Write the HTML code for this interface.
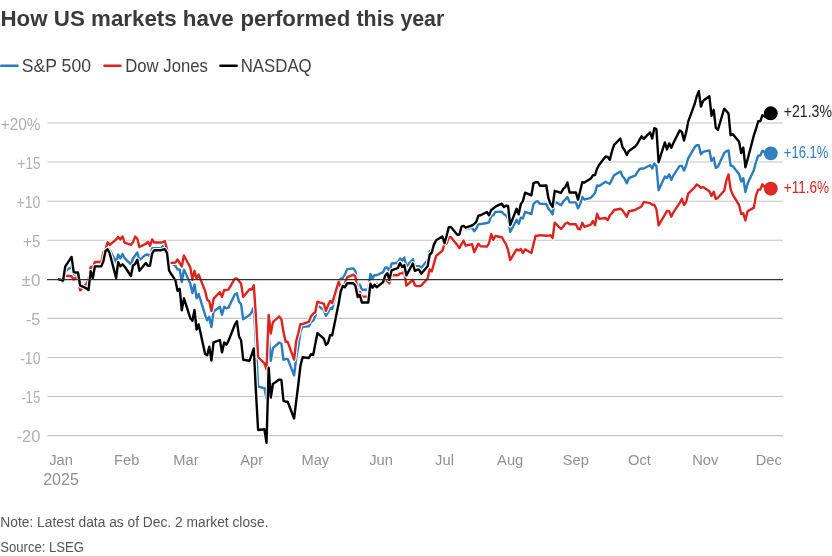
<!DOCTYPE html>
<html lang="en"><head><meta charset="utf-8"><title>How US markets have performed this year</title>
<style>
html,body{margin:0;padding:0;background:#fff;}
body{width:832px;height:556px;overflow:hidden;font-family:"Liberation Sans",sans-serif;}
svg{display:block;}
text{font-family:"Liberation Sans",sans-serif;}
.title{font-size:22px;font-weight:700;fill:#3a3a3a;}
.lg{font-size:17.3px;fill:#404040;}
.yl{font-size:14.5px;fill:#b0b0b0;}
.xl{font-size:14.7px;fill:#909090;}
.el{font-size:15.8px;}
.note{font-size:14px;fill:#555;}
</style></head><body>
<svg width="832" height="556" viewBox="0 0 832 556">
<rect width="832" height="556" fill="#fff"/>
<g class="title"><text x="0.5" y="25.7" textLength="176.2" lengthAdjust="spacingAndGlyphs">How US markets</text><text x="182.8" y="25.7" textLength="51.0" lengthAdjust="spacingAndGlyphs">have</text><text x="240.4" y="25.7" textLength="109.9" lengthAdjust="spacingAndGlyphs">performed</text><text x="356.5" y="25.7" textLength="87.8" lengthAdjust="spacingAndGlyphs">this year</text></g>
<line x1="1.2" x2="17.5" y1="65.7" y2="65.7" stroke="#2a7bbf" stroke-width="2.5" stroke-linecap="round"/>
<text transform="translate(21.8,71.9) scale(1,1.08)" class="lg" textLength="69.2" lengthAdjust="spacingAndGlyphs">S&amp;P 500</text>
<line x1="104.5" x2="120.5" y1="65.7" y2="65.7" stroke="#dc231e" stroke-width="2.5" stroke-linecap="round"/>
<text transform="translate(125.3,71.9) scale(1,1.08)" class="lg" textLength="82.5" lengthAdjust="spacingAndGlyphs">Dow Jones</text>
<line x1="220.4" x2="236.6" y1="65.7" y2="65.7" stroke="#000" stroke-width="2.5" stroke-linecap="round"/>
<text transform="translate(240.7,71.9) scale(1,1.08)" class="lg" textLength="71" lengthAdjust="spacingAndGlyphs">NASDAQ</text>
<line x1="47.5" x2="783" y1="123.00" y2="123.00" stroke="#c3c3c3" stroke-width="1.05"/>
<line x1="47.5" x2="783" y1="162.07" y2="162.07" stroke="#c3c3c3" stroke-width="1.05"/>
<line x1="47.5" x2="783" y1="201.15" y2="201.15" stroke="#c3c3c3" stroke-width="1.05"/>
<line x1="47.5" x2="783" y1="240.23" y2="240.23" stroke="#c3c3c3" stroke-width="1.05"/>
<line x1="47.5" x2="783" y1="318.38" y2="318.38" stroke="#c3c3c3" stroke-width="1.05"/>
<line x1="47.5" x2="783" y1="357.45" y2="357.45" stroke="#c3c3c3" stroke-width="1.05"/>
<line x1="47.5" x2="783" y1="396.53" y2="396.53" stroke="#c3c3c3" stroke-width="1.05"/>
<line x1="47.5" x2="783" y1="435.60" y2="435.60" stroke="#c3c3c3" stroke-width="1.05"/>

<text transform="translate(0.7,129.6) scale(1,1.15)" class="yl" textLength="39.7" lengthAdjust="spacingAndGlyphs">+20%</text>
<text transform="translate(17.6,168.7) scale(1,1.15)" class="yl" textLength="22.8" lengthAdjust="spacingAndGlyphs">+15</text>
<text transform="translate(16.6,207.8) scale(1,1.15)" class="yl" textLength="23.8" lengthAdjust="spacingAndGlyphs">+10</text>
<text transform="translate(23.0,246.8) scale(1,1.15)" class="yl" textLength="17.4" lengthAdjust="spacingAndGlyphs">+5</text>
<text transform="translate(21.5,285.9) scale(1,1.15)" class="yl" textLength="18.9" lengthAdjust="spacingAndGlyphs">±0</text>
<text transform="translate(25.9,325.0) scale(1,1.15)" class="yl" textLength="14.5" lengthAdjust="spacingAndGlyphs">-5</text>
<text transform="translate(20.2,364.1) scale(1,1.15)" class="yl" textLength="20.2" lengthAdjust="spacingAndGlyphs">-10</text>
<text transform="translate(21.2,403.1) scale(1,1.15)" class="yl" textLength="19.2" lengthAdjust="spacingAndGlyphs">-15</text>
<text transform="translate(16.6,442.2) scale(1,1.15)" class="yl" textLength="23.8" lengthAdjust="spacingAndGlyphs">-20</text>

<text transform="translate(61.0,465.1) scale(1,1.05)" text-anchor="middle" class="xl">Jan</text>
<text transform="translate(126.7,465.1) scale(1,1.05)" text-anchor="middle" class="xl">Feb</text>
<text transform="translate(186.0,465.1) scale(1,1.05)" text-anchor="middle" class="xl">Mar</text>
<text transform="translate(251.7,465.1) scale(1,1.05)" text-anchor="middle" class="xl">Apr</text>
<text transform="translate(315.3,465.1) scale(1,1.05)" text-anchor="middle" class="xl">May</text>
<text transform="translate(381.0,465.1) scale(1,1.05)" text-anchor="middle" class="xl">Jun</text>
<text transform="translate(444.5,465.1) scale(1,1.05)" text-anchor="middle" class="xl">Jul</text>
<text transform="translate(510.2,465.1) scale(1,1.05)" text-anchor="middle" class="xl">Aug</text>
<text transform="translate(575.9,465.1) scale(1,1.05)" text-anchor="middle" class="xl">Sep</text>
<text transform="translate(639.5,465.1) scale(1,1.05)" text-anchor="middle" class="xl">Oct</text>
<text transform="translate(705.2,465.1) scale(1,1.05)" text-anchor="middle" class="xl">Nov</text>
<text transform="translate(768.7,465.1) scale(1,1.05)" text-anchor="middle" class="xl">Dec</text>
<text transform="translate(61.0,485.3) scale(1,1.15)" text-anchor="middle" class="xl" textLength="35.6" lengthAdjust="spacingAndGlyphs">2025</text>

<path d="M58.9,279.3 L63.1,281.0 L65.2,271.2 L71.6,266.8 L73.7,275.7 L75.8,274.4 L78.0,274.4 L80.1,286.6 L86.4,285.3 L88.5,284.4 L90.7,270.2 L92.8,271.9 L94.9,264.0 L101.3,264.0 L103.4,257.0 L105.5,252.1 L107.6,247.8 L109.7,250.1 L116.1,261.9 L118.2,254.6 L120.3,258.3 L122.5,254.1 L124.6,258.2 L130.9,264.3 L133.0,258.5 L135.2,255.4 L137.3,252.5 L139.4,260.1 L145.8,254.7 L147.9,254.5 L150.0,256.7 L152.1,248.3 L154.2,248.3 L160.6,248.3 L162.7,246.4 L164.8,244.4 L167.0,248.0 L169.1,261.8 L175.4,265.8 L177.5,269.5 L179.7,269.4 L181.8,282.0 L183.9,269.6 L190.3,283.5 L192.4,293.0 L194.5,284.5 L196.6,298.3 L198.7,294.1 L205.1,314.8 L207.2,320.4 L209.3,316.8 L211.4,327.1 L213.6,311.5 L219.9,306.7 L222.0,314.8 L224.2,306.7 L226.3,308.4 L228.4,307.7 L234.8,294.5 L236.9,293.2 L239.0,301.8 L241.1,304.3 L243.2,319.3 L249.6,315.1 L251.7,312.3 L253.8,307.3 L255.9,343.8 L258.1,386.6 L264.4,388.2 L266.5,398.7 L268.7,335.7 L270.8,360.8 L272.9,348.2 L279.3,342.5 L281.4,343.7 L283.5,359.8 L285.6,358.9 L287.7,358.9 L294.1,375.4 L296.2,358.2 L298.3,346.5 L300.4,332.0 L302.6,326.7 L308.9,326.2 L311.0,321.9 L313.2,320.8 L315.3,316.2 L317.4,305.2 L323.8,310.0 L325.9,315.8 L328.0,312.6 L330.1,308.2 L332.2,308.8 L338.6,284.3 L340.7,278.6 L342.8,277.8 L344.9,274.6 L347.1,269.1 L353.4,268.4 L355.5,271.5 L357.7,284.2 L359.8,284.6 L361.9,289.8 L368.3,289.8 L370.4,274.0 L372.5,278.4 L374.6,275.2 L376.7,275.3 L383.1,272.1 L385.2,267.5 L387.3,267.5 L389.4,271.6 L391.6,263.5 L397.9,262.8 L400.0,258.4 L402.2,260.6 L404.3,257.6 L406.4,266.6 L412.8,259.2 L414.9,265.9 L417.0,266.1 L419.1,266.1 L421.2,267.8 L427.6,260.2 L429.7,251.3 L431.8,251.3 L433.9,244.8 L436.1,240.6 L442.4,236.3 L444.5,237.3 L446.7,233.4 L448.8,226.5 L450.9,226.5 L457.3,233.0 L459.4,233.6 L461.5,228.6 L463.6,226.3 L465.7,229.1 L472.1,227.9 L474.2,231.2 L476.3,228.5 L478.4,224.1 L480.6,224.1 L486.9,223.0 L489.0,222.4 L491.2,215.9 L493.3,215.3 L495.4,211.9 L501.8,211.8 L503.9,214.3 L506.0,215.4 L508.1,218.5 L510.2,231.9 L516.6,219.7 L518.7,223.8 L520.8,217.7 L522.9,218.4 L525.1,211.8 L531.4,214.0 L533.5,204.3 L535.7,201.6 L537.8,201.3 L539.9,203.8 L546.3,203.9 L548.4,208.9 L550.5,211.0 L552.6,214.4 L554.7,201.5 L561.1,205.2 L563.2,201.7 L565.3,199.6 L567.4,196.9 L569.6,202.4 L575.9,202.4 L578.0,208.4 L580.2,204.0 L582.3,196.9 L584.4,199.6 L590.8,197.8 L592.9,195.5 L595.0,192.9 L597.1,185.5 L599.2,185.9 L605.6,181.8 L607.7,183.0 L609.8,183.8 L611.9,179.6 L614.1,175.3 L620.4,171.4 L622.5,176.3 L624.7,178.8 L626.8,183.2 L628.9,178.0 L635.2,175.7 L637.4,172.1 L639.5,169.1 L641.6,168.5 L643.7,168.5 L650.1,165.2 L652.2,168.6 L654.3,163.4 L656.4,165.9 L658.6,190.2 L664.9,176.6 L667.0,178.0 L669.2,174.4 L671.3,180.0 L673.4,175.3 L679.7,165.9 L681.9,165.9 L684.0,170.6 L686.1,165.5 L688.2,158.4 L694.6,147.3 L696.7,145.2 L698.8,145.2 L700.9,154.3 L703.1,151.9 L709.4,150.4 L711.5,161.1 L713.7,157.8 L715.8,167.9 L717.9,166.7 L724.2,153.0 L726.4,151.1 L728.5,150.5 L730.6,165.6 L732.7,166.0 L739.1,174.2 L741.2,181.5 L743.3,178.2 L745.4,192.0 L747.6,183.5 L753.9,169.9 L756.0,161.8 L758.2,155.6 L760.3,155.6 L762.4,150.8 L768.7,155.6 L770.9,153.4" fill="none" stroke="#fff" stroke-width="4.6" stroke-linejoin="round" stroke-linecap="round"/>
<path d="M58.9,279.3 L63.1,281.0 L65.2,271.2 L71.6,266.8 L73.7,275.7 L75.8,274.4 L78.0,274.4 L80.1,286.6 L86.4,285.3 L88.5,284.4 L90.7,270.2 L92.8,271.9 L94.9,264.0 L101.3,264.0 L103.4,257.0 L105.5,252.1 L107.6,247.8 L109.7,250.1 L116.1,261.9 L118.2,254.6 L120.3,258.3 L122.5,254.1 L124.6,258.2 L130.9,264.3 L133.0,258.5 L135.2,255.4 L137.3,252.5 L139.4,260.1 L145.8,254.7 L147.9,254.5 L150.0,256.7 L152.1,248.3 L154.2,248.3 L160.6,248.3 L162.7,246.4 L164.8,244.4 L167.0,248.0 L169.1,261.8 L175.4,265.8 L177.5,269.5 L179.7,269.4 L181.8,282.0 L183.9,269.6 L190.3,283.5 L192.4,293.0 L194.5,284.5 L196.6,298.3 L198.7,294.1 L205.1,314.8 L207.2,320.4 L209.3,316.8 L211.4,327.1 L213.6,311.5 L219.9,306.7 L222.0,314.8 L224.2,306.7 L226.3,308.4 L228.4,307.7 L234.8,294.5 L236.9,293.2 L239.0,301.8 L241.1,304.3 L243.2,319.3 L249.6,315.1 L251.7,312.3 L253.8,307.3 L255.9,343.8 L258.1,386.6 L264.4,388.2 L266.5,398.7 L268.7,335.7 L270.8,360.8 L272.9,348.2 L279.3,342.5 L281.4,343.7 L283.5,359.8 L285.6,358.9 L287.7,358.9 L294.1,375.4 L296.2,358.2 L298.3,346.5 L300.4,332.0 L302.6,326.7 L308.9,326.2 L311.0,321.9 L313.2,320.8 L315.3,316.2 L317.4,305.2 L323.8,310.0 L325.9,315.8 L328.0,312.6 L330.1,308.2 L332.2,308.8 L338.6,284.3 L340.7,278.6 L342.8,277.8 L344.9,274.6 L347.1,269.1 L353.4,268.4 L355.5,271.5 L357.7,284.2 L359.8,284.6 L361.9,289.8 L368.3,289.8 L370.4,274.0 L372.5,278.4 L374.6,275.2 L376.7,275.3 L383.1,272.1 L385.2,267.5 L387.3,267.5 L389.4,271.6 L391.6,263.5 L397.9,262.8 L400.0,258.4 L402.2,260.6 L404.3,257.6 L406.4,266.6 L412.8,259.2 L414.9,265.9 L417.0,266.1 L419.1,266.1 L421.2,267.8 L427.6,260.2 L429.7,251.3 L431.8,251.3 L433.9,244.8 L436.1,240.6 L442.4,236.3 L444.5,237.3 L446.7,233.4 L448.8,226.5 L450.9,226.5 L457.3,233.0 L459.4,233.6 L461.5,228.6 L463.6,226.3 L465.7,229.1 L472.1,227.9 L474.2,231.2 L476.3,228.5 L478.4,224.1 L480.6,224.1 L486.9,223.0 L489.0,222.4 L491.2,215.9 L493.3,215.3 L495.4,211.9 L501.8,211.8 L503.9,214.3 L506.0,215.4 L508.1,218.5 L510.2,231.9 L516.6,219.7 L518.7,223.8 L520.8,217.7 L522.9,218.4 L525.1,211.8 L531.4,214.0 L533.5,204.3 L535.7,201.6 L537.8,201.3 L539.9,203.8 L546.3,203.9 L548.4,208.9 L550.5,211.0 L552.6,214.4 L554.7,201.5 L561.1,205.2 L563.2,201.7 L565.3,199.6 L567.4,196.9 L569.6,202.4 L575.9,202.4 L578.0,208.4 L580.2,204.0 L582.3,196.9 L584.4,199.6 L590.8,197.8 L592.9,195.5 L595.0,192.9 L597.1,185.5 L599.2,185.9 L605.6,181.8 L607.7,183.0 L609.8,183.8 L611.9,179.6 L614.1,175.3 L620.4,171.4 L622.5,176.3 L624.7,178.8 L626.8,183.2 L628.9,178.0 L635.2,175.7 L637.4,172.1 L639.5,169.1 L641.6,168.5 L643.7,168.5 L650.1,165.2 L652.2,168.6 L654.3,163.4 L656.4,165.9 L658.6,190.2 L664.9,176.6 L667.0,178.0 L669.2,174.4 L671.3,180.0 L673.4,175.3 L679.7,165.9 L681.9,165.9 L684.0,170.6 L686.1,165.5 L688.2,158.4 L694.6,147.3 L696.7,145.2 L698.8,145.2 L700.9,154.3 L703.1,151.9 L709.4,150.4 L711.5,161.1 L713.7,157.8 L715.8,167.9 L717.9,166.7 L724.2,153.0 L726.4,151.1 L728.5,150.5 L730.6,165.6 L732.7,166.0 L739.1,174.2 L741.2,181.5 L743.3,178.2 L745.4,192.0 L747.6,183.5 L753.9,169.9 L756.0,161.8 L758.2,155.6 L760.3,155.6 L762.4,150.8 L768.7,155.6 L770.9,153.4" fill="none" stroke="#2a7bbf" stroke-width="2.4" stroke-linejoin="round" stroke-linecap="round"/>
<path d="M58.9,279.3 L63.1,282.1 L65.2,275.8 L71.6,276.3 L73.7,279.6 L75.8,277.6 L78.0,277.6 L80.1,290.4 L86.4,283.8 L88.5,279.8 L90.7,266.9 L92.8,268.1 L94.9,262.0 L101.3,262.0 L103.4,252.1 L105.5,249.7 L107.6,242.2 L109.7,244.8 L116.1,239.5 L118.2,236.9 L120.3,239.5 L122.5,236.4 L124.6,242.6 L130.9,244.8 L133.0,242.3 L135.2,236.5 L137.3,238.8 L139.4,247.0 L145.8,243.9 L147.9,241.7 L150.0,245.8 L152.1,239.5 L154.2,242.5 L160.6,242.5 L162.7,242.3 L164.8,241.0 L167.0,249.3 L169.1,263.1 L175.4,262.5 L177.5,259.5 L179.7,263.0 L181.8,266.5 L183.9,255.5 L190.3,267.4 L192.4,279.7 L194.5,270.8 L196.6,278.7 L198.7,274.6 L205.1,290.9 L207.2,299.7 L209.3,301.2 L211.4,311.1 L213.6,298.7 L219.9,292.2 L222.0,297.0 L224.2,289.9 L226.3,290.2 L228.4,289.6 L234.8,278.6 L236.9,278.5 L239.0,280.9 L241.1,283.8 L243.2,296.9 L249.6,289.3 L251.7,289.5 L253.8,285.2 L255.9,316.0 L258.1,357.0 L264.4,363.4 L266.5,369.3 L268.7,314.9 L270.8,333.5 L272.9,322.1 L279.3,316.4 L281.4,319.3 L283.5,332.1 L285.6,341.8 L287.7,341.8 L294.1,359.6 L296.2,341.0 L298.3,333.3 L300.4,324.3 L302.6,324.0 L308.9,321.9 L311.0,316.3 L313.2,313.7 L315.3,312.2 L317.4,301.8 L323.8,303.6 L325.9,310.8 L328.0,305.6 L330.1,300.9 L332.2,303.1 L338.6,281.8 L340.7,286.7 L342.8,288.4 L344.9,283.4 L347.1,277.3 L353.4,274.7 L355.5,276.9 L357.7,291.9 L359.8,291.9 L361.9,296.6 L368.3,296.6 L370.4,283.0 L372.5,287.5 L374.6,285.3 L376.7,284.3 L383.1,283.7 L385.2,279.8 L387.3,281.4 L389.4,283.4 L391.6,275.3 L397.9,275.3 L400.0,273.4 L402.2,273.4 L404.3,271.5 L406.4,285.7 L412.8,279.8 L414.9,285.3 L417.0,286.1 L419.1,286.1 L421.2,285.5 L427.6,278.6 L429.7,269.3 L431.8,271.3 L433.9,263.8 L436.1,255.9 L442.4,250.8 L444.5,243.5 L446.7,243.7 L448.8,237.3 L450.9,237.3 L457.3,245.1 L459.4,248.1 L461.5,244.1 L463.6,240.6 L465.7,245.7 L472.1,244.1 L474.2,252.1 L476.3,247.9 L478.4,243.7 L480.6,246.3 L486.9,246.6 L489.0,243.3 L491.2,234.0 L493.3,239.8 L495.4,236.0 L501.8,237.2 L503.9,240.9 L506.0,244.1 L508.1,250.2 L510.2,260.1 L516.6,249.4 L518.7,250.5 L520.8,249.0 L522.9,253.1 L525.1,249.3 L531.4,253.0 L533.5,244.1 L535.7,235.6 L537.8,235.8 L539.9,235.2 L546.3,235.8 L548.4,235.6 L550.5,235.3 L552.6,238.1 L554.7,222.6 L561.1,229.0 L563.2,226.5 L565.3,223.8 L567.4,222.5 L569.6,224.2 L575.9,224.2 L578.0,228.8 L580.2,229.2 L582.3,222.8 L584.4,226.8 L590.8,224.7 L592.9,221.1 L595.0,225.2 L597.1,213.8 L599.2,218.9 L605.6,218.0 L607.7,220.3 L609.8,215.5 L611.9,213.2 L614.1,210.0 L620.4,208.8 L622.5,210.4 L624.7,213.6 L626.8,216.8 L628.9,211.3 L635.2,210.0 L637.4,208.5 L639.5,207.7 L641.6,206.3 L643.7,201.9 L650.1,203.1 L652.2,204.7 L654.3,204.8 L656.4,209.2 L658.6,225.4 L664.9,214.6 L667.0,210.9 L669.2,211.2 L671.3,216.7 L673.4,212.3 L679.7,202.8 L681.9,198.8 L684.0,205.0 L686.1,202.3 L688.2,193.6 L694.6,187.4 L696.7,184.5 L698.8,185.8 L700.9,187.9 L703.1,187.1 L709.4,191.3 L711.5,195.9 L713.7,191.7 L715.8,199.1 L717.9,197.7 L724.2,190.7 L726.4,180.4 L728.5,174.4 L730.6,189.1 L732.7,194.7 L739.1,205.0 L741.2,214.1 L743.3,213.3 L745.4,220.4 L747.6,211.3 L753.9,207.6 L756.0,195.4 L758.2,189.6 L760.3,189.6 L762.4,184.3 L768.7,192.1 L770.9,188.7" fill="none" stroke="#fff" stroke-width="4.6" stroke-linejoin="round" stroke-linecap="round"/>
<path d="M58.9,279.3 L63.1,282.1 L65.2,275.8 L71.6,276.3 L73.7,279.6 L75.8,277.6 L78.0,277.6 L80.1,290.4 L86.4,283.8 L88.5,279.8 L90.7,266.9 L92.8,268.1 L94.9,262.0 L101.3,262.0 L103.4,252.1 L105.5,249.7 L107.6,242.2 L109.7,244.8 L116.1,239.5 L118.2,236.9 L120.3,239.5 L122.5,236.4 L124.6,242.6 L130.9,244.8 L133.0,242.3 L135.2,236.5 L137.3,238.8 L139.4,247.0 L145.8,243.9 L147.9,241.7 L150.0,245.8 L152.1,239.5 L154.2,242.5 L160.6,242.5 L162.7,242.3 L164.8,241.0 L167.0,249.3 L169.1,263.1 L175.4,262.5 L177.5,259.5 L179.7,263.0 L181.8,266.5 L183.9,255.5 L190.3,267.4 L192.4,279.7 L194.5,270.8 L196.6,278.7 L198.7,274.6 L205.1,290.9 L207.2,299.7 L209.3,301.2 L211.4,311.1 L213.6,298.7 L219.9,292.2 L222.0,297.0 L224.2,289.9 L226.3,290.2 L228.4,289.6 L234.8,278.6 L236.9,278.5 L239.0,280.9 L241.1,283.8 L243.2,296.9 L249.6,289.3 L251.7,289.5 L253.8,285.2 L255.9,316.0 L258.1,357.0 L264.4,363.4 L266.5,369.3 L268.7,314.9 L270.8,333.5 L272.9,322.1 L279.3,316.4 L281.4,319.3 L283.5,332.1 L285.6,341.8 L287.7,341.8 L294.1,359.6 L296.2,341.0 L298.3,333.3 L300.4,324.3 L302.6,324.0 L308.9,321.9 L311.0,316.3 L313.2,313.7 L315.3,312.2 L317.4,301.8 L323.8,303.6 L325.9,310.8 L328.0,305.6 L330.1,300.9 L332.2,303.1 L338.6,281.8 L340.7,286.7 L342.8,288.4 L344.9,283.4 L347.1,277.3 L353.4,274.7 L355.5,276.9 L357.7,291.9 L359.8,291.9 L361.9,296.6 L368.3,296.6 L370.4,283.0 L372.5,287.5 L374.6,285.3 L376.7,284.3 L383.1,283.7 L385.2,279.8 L387.3,281.4 L389.4,283.4 L391.6,275.3 L397.9,275.3 L400.0,273.4 L402.2,273.4 L404.3,271.5 L406.4,285.7 L412.8,279.8 L414.9,285.3 L417.0,286.1 L419.1,286.1 L421.2,285.5 L427.6,278.6 L429.7,269.3 L431.8,271.3 L433.9,263.8 L436.1,255.9 L442.4,250.8 L444.5,243.5 L446.7,243.7 L448.8,237.3 L450.9,237.3 L457.3,245.1 L459.4,248.1 L461.5,244.1 L463.6,240.6 L465.7,245.7 L472.1,244.1 L474.2,252.1 L476.3,247.9 L478.4,243.7 L480.6,246.3 L486.9,246.6 L489.0,243.3 L491.2,234.0 L493.3,239.8 L495.4,236.0 L501.8,237.2 L503.9,240.9 L506.0,244.1 L508.1,250.2 L510.2,260.1 L516.6,249.4 L518.7,250.5 L520.8,249.0 L522.9,253.1 L525.1,249.3 L531.4,253.0 L533.5,244.1 L535.7,235.6 L537.8,235.8 L539.9,235.2 L546.3,235.8 L548.4,235.6 L550.5,235.3 L552.6,238.1 L554.7,222.6 L561.1,229.0 L563.2,226.5 L565.3,223.8 L567.4,222.5 L569.6,224.2 L575.9,224.2 L578.0,228.8 L580.2,229.2 L582.3,222.8 L584.4,226.8 L590.8,224.7 L592.9,221.1 L595.0,225.2 L597.1,213.8 L599.2,218.9 L605.6,218.0 L607.7,220.3 L609.8,215.5 L611.9,213.2 L614.1,210.0 L620.4,208.8 L622.5,210.4 L624.7,213.6 L626.8,216.8 L628.9,211.3 L635.2,210.0 L637.4,208.5 L639.5,207.7 L641.6,206.3 L643.7,201.9 L650.1,203.1 L652.2,204.7 L654.3,204.8 L656.4,209.2 L658.6,225.4 L664.9,214.6 L667.0,210.9 L669.2,211.2 L671.3,216.7 L673.4,212.3 L679.7,202.8 L681.9,198.8 L684.0,205.0 L686.1,202.3 L688.2,193.6 L694.6,187.4 L696.7,184.5 L698.8,185.8 L700.9,187.9 L703.1,187.1 L709.4,191.3 L711.5,195.9 L713.7,191.7 L715.8,199.1 L717.9,197.7 L724.2,190.7 L726.4,180.4 L728.5,174.4 L730.6,189.1 L732.7,194.7 L739.1,205.0 L741.2,214.1 L743.3,213.3 L745.4,220.4 L747.6,211.3 L753.9,207.6 L756.0,195.4 L758.2,189.6 L760.3,189.6 L762.4,184.3 L768.7,192.1 L770.9,188.7" fill="none" stroke="#dc231e" stroke-width="2.4" stroke-linejoin="round" stroke-linecap="round"/>
<path d="M58.9,279.3 L63.1,280.5 L65.2,266.7 L71.6,256.9 L73.7,272.1 L75.8,272.5 L78.0,272.5 L80.1,285.3 L86.4,288.3 L88.5,290.1 L90.7,271.2 L92.8,278.2 L94.9,266.4 L101.3,266.4 L103.4,261.3 L105.5,251.0 L107.6,249.2 L109.7,253.3 L116.1,278.0 L118.2,262.2 L120.3,266.3 L122.5,264.3 L124.6,266.5 L130.9,276.0 L133.0,265.4 L135.2,263.9 L137.3,259.8 L139.4,270.7 L145.8,263.0 L147.9,265.8 L150.0,265.6 L152.1,253.6 L154.2,250.3 L160.6,250.3 L162.7,249.7 L164.8,249.1 L167.0,252.9 L169.1,270.7 L175.4,280.3 L177.5,290.8 L179.7,288.8 L181.8,310.3 L183.9,298.1 L190.3,318.2 L192.4,320.8 L194.5,310.0 L196.6,329.5 L198.7,324.4 L205.1,353.9 L207.2,355.2 L209.3,346.6 L211.4,360.6 L213.6,342.3 L219.9,340.1 L222.0,352.4 L224.2,342.4 L226.3,344.8 L228.4,341.1 L234.8,324.7 L236.9,321.3 L239.0,336.4 L241.1,340.3 L243.2,359.7 L249.6,360.7 L251.7,354.6 L253.8,348.5 L255.9,391.0 L258.1,430.0 L264.4,429.3 L266.5,442.9 L268.7,367.8 L270.8,397.6 L272.9,384.0 L279.3,379.6 L281.4,380.0 L283.5,400.9 L285.6,401.7 L287.7,401.7 L294.1,418.5 L296.2,401.1 L298.3,384.6 L300.4,366.1 L302.6,357.3 L308.9,358.0 L311.0,354.1 L313.2,354.8 L315.3,344.1 L317.4,333.2 L323.8,338.7 L325.9,344.9 L328.0,342.9 L330.1,335.3 L332.2,335.2 L338.6,303.7 L340.7,291.5 L342.8,285.9 L344.9,287.3 L347.1,283.3 L353.4,283.2 L355.5,286.1 L357.7,297.0 L359.8,294.9 L361.9,302.5 L368.3,302.5 L370.4,283.8 L372.5,287.8 L374.6,284.8 L376.7,287.3 L383.1,282.1 L385.2,275.7 L387.3,273.2 L389.4,279.8 L391.6,270.4 L397.9,268.0 L400.0,262.9 L402.2,267.0 L404.3,265.1 L406.4,275.4 L412.8,263.5 L414.9,270.8 L417.0,269.8 L419.1,269.8 L421.2,273.8 L427.6,266.3 L429.7,254.9 L431.8,252.5 L433.9,244.6 L436.1,240.3 L442.4,236.4 L444.5,243.2 L446.7,235.5 L448.8,227.1 L450.9,227.1 L457.3,234.7 L459.4,234.5 L461.5,226.7 L463.6,225.9 L465.7,227.7 L472.1,225.5 L474.2,224.0 L476.3,221.8 L478.4,215.6 L480.6,215.2 L486.9,212.0 L489.0,215.3 L491.2,210.1 L493.3,208.6 L495.4,206.6 L501.8,203.7 L503.9,207.0 L506.0,205.7 L508.1,206.0 L510.2,225.1 L516.6,208.8 L518.7,214.3 L520.8,204.1 L522.9,201.1 L525.1,192.7 L531.4,195.3 L533.5,183.3 L535.7,182.1 L537.8,182.2 L539.9,185.7 L546.3,185.5 L548.4,198.2 L550.5,203.9 L552.6,206.9 L554.7,190.8 L561.1,192.8 L563.2,188.9 L565.3,187.1 L567.4,182.4 L569.6,192.5 L575.9,192.5 L578.0,199.6 L580.2,190.8 L582.3,182.3 L584.4,182.6 L590.8,178.6 L592.9,175.3 L595.0,175.1 L597.1,168.7 L599.2,164.8 L605.6,156.4 L607.7,157.0 L609.8,159.9 L611.9,151.4 L614.1,144.9 L620.4,138.5 L622.5,147.3 L624.7,150.3 L626.8,154.9 L628.9,150.9 L635.2,146.5 L637.4,143.8 L639.5,139.9 L641.6,136.3 L643.7,138.9 L650.1,132.4 L652.2,138.6 L654.3,128.2 L656.4,129.0 L658.6,162.2 L664.9,142.4 L667.0,149.4 L669.2,143.4 L671.3,147.7 L673.4,143.0 L679.7,130.4 L681.9,131.9 L684.0,140.5 L686.1,132.4 L688.2,121.7 L694.6,104.2 L696.7,96.5 L698.8,91.2 L700.9,106.5 L703.1,100.7 L709.4,96.2 L711.5,115.9 L713.7,109.8 L715.8,127.8 L717.9,129.8 L724.2,108.7 L726.4,111.0 L728.5,113.5 L730.6,135.2 L732.7,134.0 L739.1,141.8 L741.2,153.0 L743.3,147.6 L745.4,167.3 L747.6,159.4 L753.9,135.2 L756.0,129.0 L758.2,121.3 L760.3,121.3 L762.4,115.2 L768.7,118.8 L770.9,113.3" fill="none" stroke="#fff" stroke-width="4.6" stroke-linejoin="round" stroke-linecap="round"/>
<path d="M58.9,279.3 L63.1,280.5 L65.2,266.7 L71.6,256.9 L73.7,272.1 L75.8,272.5 L78.0,272.5 L80.1,285.3 L86.4,288.3 L88.5,290.1 L90.7,271.2 L92.8,278.2 L94.9,266.4 L101.3,266.4 L103.4,261.3 L105.5,251.0 L107.6,249.2 L109.7,253.3 L116.1,278.0 L118.2,262.2 L120.3,266.3 L122.5,264.3 L124.6,266.5 L130.9,276.0 L133.0,265.4 L135.2,263.9 L137.3,259.8 L139.4,270.7 L145.8,263.0 L147.9,265.8 L150.0,265.6 L152.1,253.6 L154.2,250.3 L160.6,250.3 L162.7,249.7 L164.8,249.1 L167.0,252.9 L169.1,270.7 L175.4,280.3 L177.5,290.8 L179.7,288.8 L181.8,310.3 L183.9,298.1 L190.3,318.2 L192.4,320.8 L194.5,310.0 L196.6,329.5 L198.7,324.4 L205.1,353.9 L207.2,355.2 L209.3,346.6 L211.4,360.6 L213.6,342.3 L219.9,340.1 L222.0,352.4 L224.2,342.4 L226.3,344.8 L228.4,341.1 L234.8,324.7 L236.9,321.3 L239.0,336.4 L241.1,340.3 L243.2,359.7 L249.6,360.7 L251.7,354.6 L253.8,348.5 L255.9,391.0 L258.1,430.0 L264.4,429.3 L266.5,442.9 L268.7,367.8 L270.8,397.6 L272.9,384.0 L279.3,379.6 L281.4,380.0 L283.5,400.9 L285.6,401.7 L287.7,401.7 L294.1,418.5 L296.2,401.1 L298.3,384.6 L300.4,366.1 L302.6,357.3 L308.9,358.0 L311.0,354.1 L313.2,354.8 L315.3,344.1 L317.4,333.2 L323.8,338.7 L325.9,344.9 L328.0,342.9 L330.1,335.3 L332.2,335.2 L338.6,303.7 L340.7,291.5 L342.8,285.9 L344.9,287.3 L347.1,283.3 L353.4,283.2 L355.5,286.1 L357.7,297.0 L359.8,294.9 L361.9,302.5 L368.3,302.5 L370.4,283.8 L372.5,287.8 L374.6,284.8 L376.7,287.3 L383.1,282.1 L385.2,275.7 L387.3,273.2 L389.4,279.8 L391.6,270.4 L397.9,268.0 L400.0,262.9 L402.2,267.0 L404.3,265.1 L406.4,275.4 L412.8,263.5 L414.9,270.8 L417.0,269.8 L419.1,269.8 L421.2,273.8 L427.6,266.3 L429.7,254.9 L431.8,252.5 L433.9,244.6 L436.1,240.3 L442.4,236.4 L444.5,243.2 L446.7,235.5 L448.8,227.1 L450.9,227.1 L457.3,234.7 L459.4,234.5 L461.5,226.7 L463.6,225.9 L465.7,227.7 L472.1,225.5 L474.2,224.0 L476.3,221.8 L478.4,215.6 L480.6,215.2 L486.9,212.0 L489.0,215.3 L491.2,210.1 L493.3,208.6 L495.4,206.6 L501.8,203.7 L503.9,207.0 L506.0,205.7 L508.1,206.0 L510.2,225.1 L516.6,208.8 L518.7,214.3 L520.8,204.1 L522.9,201.1 L525.1,192.7 L531.4,195.3 L533.5,183.3 L535.7,182.1 L537.8,182.2 L539.9,185.7 L546.3,185.5 L548.4,198.2 L550.5,203.9 L552.6,206.9 L554.7,190.8 L561.1,192.8 L563.2,188.9 L565.3,187.1 L567.4,182.4 L569.6,192.5 L575.9,192.5 L578.0,199.6 L580.2,190.8 L582.3,182.3 L584.4,182.6 L590.8,178.6 L592.9,175.3 L595.0,175.1 L597.1,168.7 L599.2,164.8 L605.6,156.4 L607.7,157.0 L609.8,159.9 L611.9,151.4 L614.1,144.9 L620.4,138.5 L622.5,147.3 L624.7,150.3 L626.8,154.9 L628.9,150.9 L635.2,146.5 L637.4,143.8 L639.5,139.9 L641.6,136.3 L643.7,138.9 L650.1,132.4 L652.2,138.6 L654.3,128.2 L656.4,129.0 L658.6,162.2 L664.9,142.4 L667.0,149.4 L669.2,143.4 L671.3,147.7 L673.4,143.0 L679.7,130.4 L681.9,131.9 L684.0,140.5 L686.1,132.4 L688.2,121.7 L694.6,104.2 L696.7,96.5 L698.8,91.2 L700.9,106.5 L703.1,100.7 L709.4,96.2 L711.5,115.9 L713.7,109.8 L715.8,127.8 L717.9,129.8 L724.2,108.7 L726.4,111.0 L728.5,113.5 L730.6,135.2 L732.7,134.0 L739.1,141.8 L741.2,153.0 L743.3,147.6 L745.4,167.3 L747.6,159.4 L753.9,135.2 L756.0,129.0 L758.2,121.3 L760.3,121.3 L762.4,115.2 L768.7,118.8 L770.9,113.3" fill="none" stroke="#000" stroke-width="2.4" stroke-linejoin="round" stroke-linecap="round"/>

<line x1="47" x2="783" y1="279.60" y2="279.60" stroke="#333" stroke-width="1.4"/>
<circle cx="770.8" cy="153.4" r="6.3" fill="#3282c0" stroke="#2a7bbf" stroke-width="1.3"/>
<text x="783.8" y="157.5" class="el" fill="#2a7bbf" textLength="44.6" lengthAdjust="spacingAndGlyphs">+16.1%</text>
<circle cx="770.8" cy="188.7" r="6.3" fill="#dd2c27" stroke="#dc231e" stroke-width="1.3"/>
<text x="783.8" y="192.8" class="el" fill="#dc231e" textLength="45.3" lengthAdjust="spacingAndGlyphs">+11.6%</text>
<circle cx="770.8" cy="113.3" r="6.3" fill="#000" stroke="#000" stroke-width="1.3"/>
<text x="783.8" y="117.4" class="el" fill="#222" textLength="48.2" lengthAdjust="spacingAndGlyphs">+21.3%</text>

<text x="0.3" y="526.8" class="note" textLength="268.2" lengthAdjust="spacingAndGlyphs">Note: Latest data as of Dec. 2 market close.</text>
<text x="0.3" y="551.8" class="note" textLength="83.7" lengthAdjust="spacingAndGlyphs">Source: LSEG</text>
</svg>
</body></html>
